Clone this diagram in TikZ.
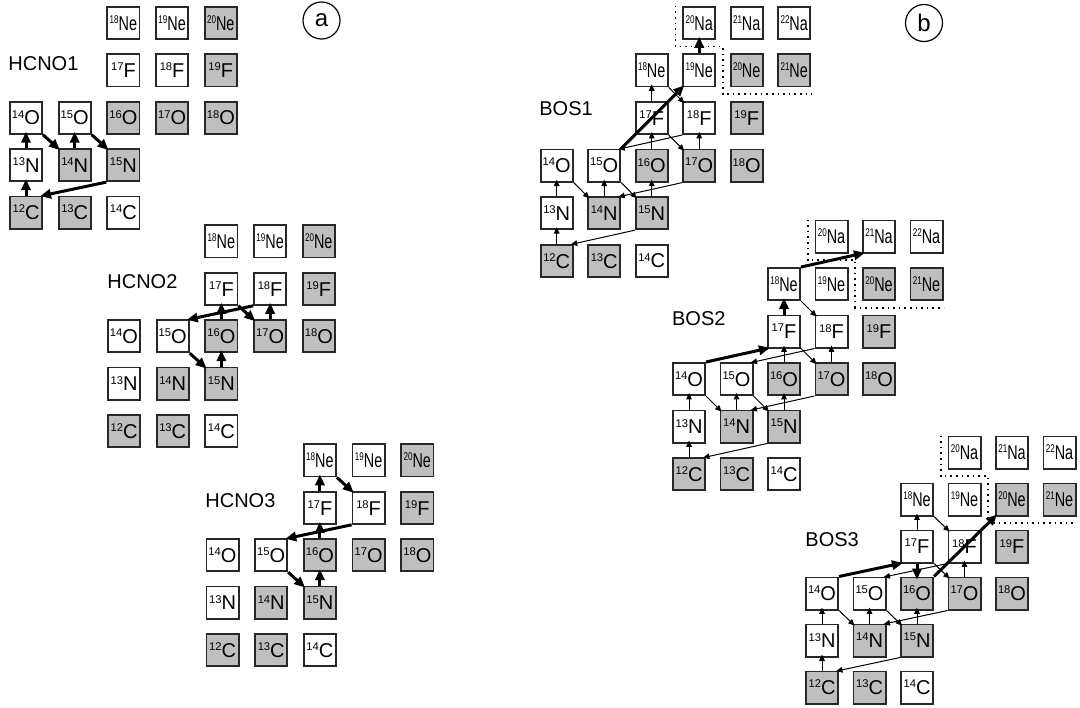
\documentclass[tikz,border=0pt]{standalone}
\usepackage{fontspec}
\setmainfont{Liberation Sans}
\usepackage{graphicx}
\usetikzlibrary{arrows.meta, calc, positioning}
\definecolor{stabgray}{RGB}{191,191,191}
\definecolor{edgegray}{RGB}{40,40,40}

\newcommand{\nuc}[2]{\raisebox{3.4pt}{\fontsize{5.6}{6}\selectfont #1}#2}

% chart of nuclei: #1 prefix, (#2,#3) = 12C, #4/#5 column/row pitch
\newcommand{\nucchart}[5]{%
  \foreach \cl/\rw/\nm/\ms/\el/\fc/\sx in {%
    0/0/c12/12/C/stabgray/1, 1/0/c13/13/C/stabgray/1, 2/0/c14/14/C/white/1,
    0/1/n13/13/N/white/1, 1/1/n14/14/N/stabgray/1, 2/1/n15/15/N/stabgray/1,
    0/2/o14/14/O/white/1, 1/2/o15/15/O/white/1, 2/2/o16/16/O/stabgray/1,
    3/2/o17/17/O/stabgray/1, 4/2/o18/18/O/stabgray/1,
    2/3/f17/17/F/white/1, 3/3/f18/18/F/white/1, 4/3/f19/19/F/stabgray/1,
    2/4/ne18/18/Ne/white/.72, 3/4/ne19/19/Ne/white/.72, 4/4/ne20/20/Ne/stabgray/.72}{%
    \node[nucbox, fill=\fc] (#1\nm) at ({#2+\cl*#4}, {#3-\rw*#5}) {\scalebox{\sx}[1]{\nuc{\ms}{\el}}};
  }%
}
% extra Ne/Na boxes of the breakout charts
\newcommand{\nachart}[5]{%
  \foreach \cl/\rw/\nm/\ms/\el/\fc in {%
    5/4/ne21/21/Ne/stabgray, 3/5/na20/20/Na/white, 4/5/na21/21/Na/white, 5/5/na22/22/Na/white}{%
    \node[nucbox, fill=\fc] (#1\nm) at ({#2+\cl*#4}, {#3-\rw*#5}) {\scalebox{.72}[1]{\nuc{\ms}{\el}}};
  }%
  \draw[dotbound] ($(#1na20.north)-(23.75,0)$) -- ($(#1na20.center)+(-23.75,23.75)$)
    -- ($(#1na20.center)+(23.75,23.75)$) -- ($(#1ne20.center)+(-23.75,23.75)$)
    -- ($(#1ne21.east)+(0,23.75)$);
}
% hot CNO cycles, thin arrows
\newcommand{\hotcno}[1]{%
  \draw[thn] (#1c12.north) -- (#1n13.south);
  \draw[thn] (#1n13.north) -- (#1o14.south);
  \draw[thn] (#1o14.south east) -- (#1n14.north west);
  \draw[thn] (#1n14.north) -- (#1o15.south);
  \draw[thn] (#1o15.south east) -- (#1n15.north west);
  \draw[thn] (#1n15.south west) -- (#1c12.north east);
  \draw[thn] (#1n15.north) -- (#1o16.south);
  \draw[thn] (#1f17.south east) -- (#1o17.north west);
  \draw[thn] (#1o17.north) -- (#1f18.south);
  \draw[thn] (#1f18.south west) -- (#1o15.north east);
  \draw[thn] (#1o17.south west) -- (#1n14.north east);
  \draw[thn] (#1ne18.south east) -- (#1f18.north west);
}

\begin{document}
\begin{tikzpicture}[x=0.5pt, y=-0.5pt,
    nucbox/.style={rectangle, draw=edgegray, line width=0.9pt, minimum size=16.1pt, inner sep=0pt, font=\fontsize{10}{11}\selectfont},
    chartname/.style={anchor=west, inner sep=0pt, font=\fontsize{10}{12}\selectfont},
    panel/.style={circle, draw, line width=0.6pt, minimum size=18.5pt, inner sep=0pt, font=\fontsize{12}{14}\selectfont},
    thk/.style={line width=1.5pt, -{Triangle[length=5.5pt,width=4.6pt]}, shorten >=-1.5pt},
    thn/.style={line width=0.5pt, -{Triangle[length=3.2pt,width=2.8pt]}, shorten >=-1.5pt},
    dotbound/.style={dotted, line width=0.8pt},
]
\useasboundingbox (0,0) rectangle (1080,707);

% panel a: hot CNO cycles
\node[panel] (pa) at (321.5,20.5) {a};
\nucchart{h1}{26}{212.5}{48.7}{47.4}
\nucchart{h2}{124}{431}{48.7}{47.4}
\nucchart{h3}{222.5}{650}{48.7}{47.4}
\node[chartname] (lh1) at (8,63.5) {HCNO1};
\node[chartname] (lh2) at (107,281.5) {HCNO2};
\node[chartname] (lh3) at (205,500.5) {HCNO3};

\draw[thk] (h1c12.north) -- (h1n13.south);
\draw[thk] (h1n13.north) -- (h1o14.south);
\draw[thk] (h1o14.south east) -- (h1n14.north west);
\draw[thk] (h1n14.north) -- (h1o15.south);
\draw[thk] (h1o15.south east) -- (h1n15.north west);
\draw[thk] (h1n15.south west) -- (h1c12.north east);

\draw[thk] (h2o15.south east) -- (h2n15.north west);
\draw[thk] (h2n15.north) -- (h2o16.south);
\draw[thk] (h2o16.north) -- (h2f17.south);
\draw[thk] (h2f17.south east) -- (h2o17.north west);
\draw[thk] (h2o17.north) -- (h2f18.south);
\draw[thk] (h2f18.south west) -- (h2o15.north east);

\draw[thk] (h3o15.south east) -- (h3n15.north west);
\draw[thk] (h3n15.north) -- (h3o16.south);
\draw[thk] (h3o16.north) -- (h3f17.south);
\draw[thk] (h3f17.north) -- (h3ne18.south);
\draw[thk] (h3ne18.south east) -- (h3f18.north west);
\draw[thk] (h3f18.south west) -- (h3o15.north east);

% panel b: breakout sequences
\node[panel] (pb) at (924,23) {b};
\nucchart{b1}{556.7}{260.8}{47.5}{47.6}
\nachart{b1}{556.7}{260.8}{47.5}{47.6}
\nucchart{b2}{689}{474}{47.5}{47.5}
\nachart{b2}{689}{474}{47.5}{47.5}
\nucchart{b3}{822}{687.5}{47.5}{47}
\nachart{b3}{822}{687.5}{47.5}{47}
\node[chartname] (lb1) at (539,108.5) {BOS1};
\node[chartname] (lb2) at (671.7,318.5) {BOS2};
\node[chartname] (lb3) at (805,540) {BOS3};

\hotcno{b1}
\draw[thn] (b1o16.north) -- (b1f17.south);
\draw[thn] (b1f17.north) -- (b1ne18.south);
\draw[thk] (b1o15.north east) -- (b1ne19.south west);
\draw[thk] (b1ne19.north) -- (b1na20.south);

\hotcno{b2}
\draw[thn] (b2o16.north) -- (b2f17.south);
\draw[thk] (b2o14.north east) -- (b2f17.south west);
\draw[thk] (b2f17.north) -- (b2ne18.south);
\draw[thk] (b2ne18.north east) -- (b2na21.south west);

\hotcno{b3}
\draw[thn] (b3f17.north) -- (b3ne18.south);
\draw[thk] (b3o14.north east) -- (b3f17.south west);
\draw[thk] (b3f17.south) -- (b3o16.north);
\draw[thk] (b3o16.north east) -- (b3ne20.south west);

\end{tikzpicture}
\end{document}
